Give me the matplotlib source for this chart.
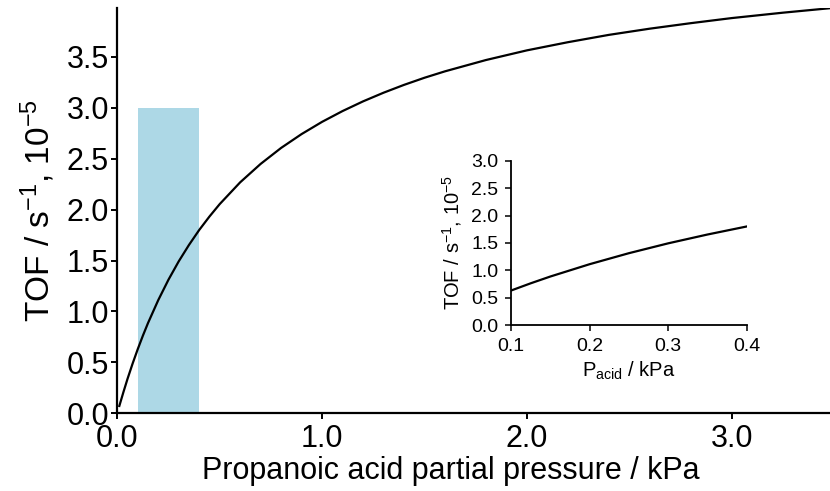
import matplotlib
matplotlib.use("Agg")
import matplotlib.pyplot as plt

plt.rcParams['font.family'] = ['Liberation Sans', 'DejaVu Sans']
plt.rcParams['mathtext.default'] = 'regular'

# values
pressure = [0.01, 0.03, 0.05, 0.075, 0.1, 0.125, 0.15, 0.2, 0.25, 0.3, 0.35,
            0.4, 0.45, 0.5, 0.6, 0.7, 0.8, 0.9, 1.0, 1.1, 1.2, 1.3, 1.4, 1.5,
            1.6, 1.8, 2.0, 2.2, 2.4, 2.6, 2.8, 3.0, 3.25, 3.5]
tof = [0.072, 0.208, 0.338, 0.489, 0.630, 0.762, 0.886, 1.111, 1.312, 1.492, 1.653,
       1.800, 1.932, 2.054, 2.268, 2.449, 2.606, 2.742, 2.862, 2.968, 3.063, 3.148,
       3.225, 3.295, 3.358, 3.469, 3.564, 3.644, 3.716, 3.777, 3.831, 3.881, 3.934,
       3.982]

# shaded experimental window
window = [0.1, 0.4]
window_height = 3.0

main_yticks = [0.0, 0.5, 1.0, 1.5, 2.0, 2.5, 3.0, 3.5]
main_xticks = [0.0, 1.0, 2.0, 3.0]
inset_xticks = [0.1, 0.2, 0.3, 0.4]
inset_yticks = [0.0, 0.5, 1.0, 1.5, 2.0, 2.5, 3.0]

ylabel = r'TOF / s$^{-1}$, 10$^{-5}$'

fig = plt.figure(figsize=(8.3, 4.91), dpi=100)
ax = fig.add_axes([0.1413, 0.1583, 0.8587, 0.8254])

ax.bar(window[0], window_height, width=window[1] - window[0], align='edge',
       color='#ADD8E6', linewidth=0, zorder=1)
ax.plot(pressure, tof, color='black', lw=1.6, zorder=2)

ax.set_xlim(0, 3.48)
ax.set_ylim(0, 3.98)
ax.set_xticks(main_xticks)
ax.set_xticklabels([f"{v:.1f}" for v in main_xticks])
ax.set_yticks(main_yticks)
ax.set_yticklabels([f"{v:.1f}" for v in main_yticks])
for side in ['top', 'right']:
    ax.spines[side].set_visible(False)
for side in ['left', 'bottom']:
    ax.spines[side].set_linewidth(1.6)
ax.tick_params(labelsize=22, width=1.4, length=4.5)
ax.tick_params(axis='x', pad=3)
ax.tick_params(axis='y', pad=1.5)
ax.set_xlabel('Propanoic acid partial pressure / kPa', fontsize=22)
ax.xaxis.set_label_coords(0.468, -0.106)
ax.set_ylabel(ylabel, fontsize=24, labelpad=7)

# inset zoom on the shaded region
ins = fig.add_axes([0.6157, 0.338, 0.284, 0.3346])
ins.plot(pressure, tof, color='black', lw=1.6)
ins.set_xlim(0.1, 0.4)
ins.set_ylim(0, 3.0)
ins.set_xticks(inset_xticks)
ins.set_xticklabels([f"{v:.1f}" for v in inset_xticks])
ins.set_yticks(inset_yticks)
ins.set_yticklabels([f"{v:.1f}" for v in inset_yticks])
for side in ['top', 'right']:
    ins.spines[side].set_visible(False)
for side in ['left', 'bottom']:
    ins.spines[side].set_linewidth(1.3)
ins.tick_params(labelsize=14, width=1.1, length=4)
ins.tick_params(axis='x', pad=5)
ins.tick_params(axis='y', pad=5)
ins.set_xlabel(r'P$_{acid}$ / kPa', fontsize=14.5, labelpad=4)
ins.set_ylabel(ylabel, fontsize=14.5, labelpad=5)
ins.patch.set_alpha(0)

fig.savefig('out.png', dpi=100)
